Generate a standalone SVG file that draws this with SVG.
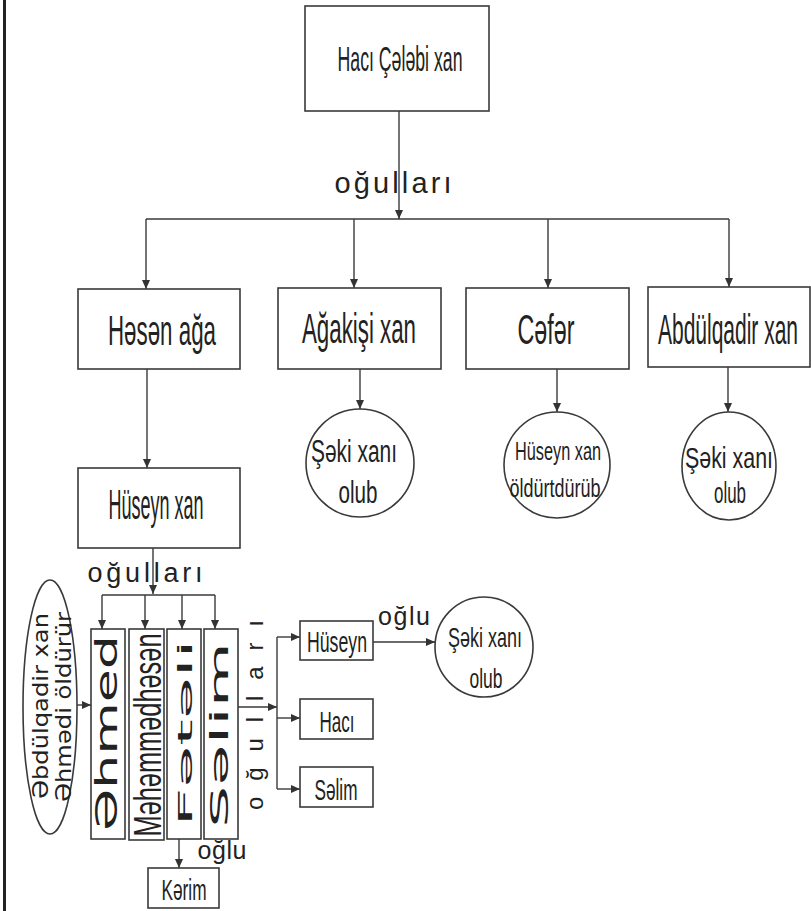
<svg xmlns="http://www.w3.org/2000/svg" width="811" height="911" viewBox="0 0 811 911">
<style>
.b{fill:#fff;stroke:#3a3a3a;stroke-width:1.6}
.c{fill:none;stroke:#3a3a3a;stroke-width:1.4}
.t{font-family:"Liberation Sans",Arial,sans-serif;fill:#222;text-anchor:middle}
.v{font-family:"DejaVu Sans",Verdana,sans-serif;fill:#222;text-anchor:middle}
</style>
<defs>
<marker id="a" markerUnits="userSpaceOnUse" markerWidth="9" markerHeight="8" refX="9" refY="4" orient="auto">
<path d="M0,0 L9,4 L0,8 z" fill="#333"/>
</marker>
</defs>
<rect width="811" height="911" fill="#fff"/>
<line x1="4.5" y1="0" x2="4.5" y2="911" stroke="#222" stroke-width="3"/>

<g id="connectors" class="c">
<line x1="399" y1="111" x2="399" y2="219" marker-end="url(#a)"/>
<line x1="146" y1="219" x2="729" y2="219"/>
<line x1="146" y1="219" x2="146" y2="289" marker-end="url(#a)"/>
<line x1="354" y1="219" x2="354" y2="288" marker-end="url(#a)"/>
<line x1="548" y1="219" x2="548" y2="288" marker-end="url(#a)"/>
<line x1="729" y1="219" x2="729" y2="287" marker-end="url(#a)"/>
<line x1="147" y1="369" x2="147" y2="468" marker-end="url(#a)"/>
<line x1="360" y1="369" x2="360" y2="409" marker-end="url(#a)"/>
<line x1="557" y1="369" x2="557" y2="412" marker-end="url(#a)"/>
<line x1="728" y1="367" x2="728" y2="412" marker-end="url(#a)"/>
<line x1="153" y1="548" x2="153" y2="594" marker-end="url(#a)"/>
<line x1="102" y1="595" x2="215" y2="595"/>
<line x1="102" y1="595" x2="102" y2="629" marker-end="url(#a)"/>
<line x1="145" y1="595" x2="145" y2="629" marker-end="url(#a)"/>
<line x1="182" y1="595" x2="182" y2="629" marker-end="url(#a)"/>
<line x1="215" y1="595" x2="215" y2="629" marker-end="url(#a)"/>
<line x1="77" y1="705" x2="91" y2="705" marker-end="url(#a)"/>
<line x1="179" y1="839" x2="179" y2="868" marker-end="url(#a)"/>
<line x1="238" y1="707" x2="277" y2="707" marker-end="url(#a)"/>
<line x1="277" y1="637" x2="277" y2="789"/>
<line x1="277" y1="637" x2="300" y2="637" marker-end="url(#a)"/>
<line x1="277" y1="718" x2="300" y2="718" marker-end="url(#a)"/>
<line x1="277" y1="789" x2="300" y2="789" marker-end="url(#a)"/>
<line x1="373" y1="642" x2="435" y2="642" marker-end="url(#a)"/>
</g>

<g id="labels" class="t">
<text x="393" y="193" font-size="29" textLength="117" lengthAdjust="spacing">oğulları</text>
<text x="145" y="582" font-size="27" textLength="115" lengthAdjust="spacing">oğulları</text>
<text x="404" y="625" font-size="25" textLength="52" lengthAdjust="spacing">oğlu</text>
<text x="222" y="859" font-size="25" textLength="49" lengthAdjust="spacing">oğlu</text>
<text transform="translate(263,715) rotate(-90)" font-size="24" textLength="190" lengthAdjust="spacing">oğulları</text>
</g>

<g id="haci-celebi-xan">
<rect class="b" x="305" y="6" width="184" height="105"/>
<text class="t" x="400" y="71" font-size="35" textLength="125" lengthAdjust="spacingAndGlyphs">Hacı Çələbi xan</text>
</g>
<g id="hesen-aga">
<rect class="b" x="78" y="289" width="162" height="80"/>
<text class="t" x="162" y="345" font-size="42" textLength="108" lengthAdjust="spacingAndGlyphs">Həsən ağa</text>
</g>
<g id="agakisi-xan">
<rect class="b" x="278" y="288" width="163" height="81"/>
<text class="t" x="359" y="343" font-size="42" textLength="114" lengthAdjust="spacingAndGlyphs">Ağakişi xan</text>
</g>
<g id="cefer">
<rect class="b" x="466" y="288" width="163" height="81"/>
<text class="t" x="546" y="344" font-size="42" textLength="57" lengthAdjust="spacingAndGlyphs">Cəfər</text>
</g>
<g id="abdulqadir-xan">
<rect class="b" x="648" y="287" width="162" height="80"/>
<text class="t" transform="translate(728,344) scale(0.5,1)" font-size="42">Abdülqadir xan</text>
</g>
<g id="seki-xani-1">
<ellipse class="b" cx="360" cy="463" rx="54" ry="54"/>
<text class="t" x="354" y="462" font-size="31" textLength="86" lengthAdjust="spacingAndGlyphs">Şəki xanı</text>
<text class="t" x="358" y="503" font-size="31" textLength="39" lengthAdjust="spacingAndGlyphs">olub</text>
</g>
<g id="huseyn-xan-oldurtdurub">
<ellipse class="b" cx="557" cy="465" rx="53" ry="53"/>
<text class="t" x="558" y="460" font-size="25" textLength="86" lengthAdjust="spacingAndGlyphs">Hüseyn xan</text>
<text class="t" x="555" y="497" font-size="25" textLength="91" lengthAdjust="spacingAndGlyphs">öldürtdürüb</text>
</g>
<g id="seki-xani-2">
<ellipse class="b" cx="729" cy="466" rx="47" ry="54"/>
<text class="t" x="729" y="468" font-size="30" textLength="88" lengthAdjust="spacingAndGlyphs">Şəki xanı</text>
<text class="t" x="730" y="503" font-size="30" textLength="32" lengthAdjust="spacingAndGlyphs">olub</text>
</g>
<g id="huseyn-xan">
<rect class="b" x="78" y="468" width="162" height="80"/>
<text class="t" x="156" y="519" font-size="42" textLength="95" lengthAdjust="spacingAndGlyphs">Hüseyn xan</text>
</g>
<g id="abdulqadir-oldurur">
<ellipse class="b" cx="50" cy="707" rx="27" ry="127"/>
<text class="v" transform="translate(48,706) rotate(-90)" font-size="21" textLength="186" lengthAdjust="spacingAndGlyphs">Əbdülqadir xan</text>
<text class="v" transform="translate(71,707) rotate(-90)" font-size="21" textLength="190" lengthAdjust="spacingAndGlyphs">Əhmədi öldürür</text>
</g>
<g id="ehmed">
<rect class="b" x="91" y="629" width="34" height="210"/>
<text class="v" transform="translate(117,733) rotate(-90)" font-size="30" textLength="196" lengthAdjust="spacingAndGlyphs">Əhmed</text>
</g>
<g id="mehemmedhesen">
<rect class="b" x="129" y="629" width="35" height="211"/>
<text class="t" transform="translate(161,735) rotate(-90)" font-size="38" textLength="203" lengthAdjust="spacingAndGlyphs">Məhəmmədhəsən</text>
</g>
<g id="feteli">
<rect class="b" x="167" y="629" width="34" height="210"/>
<text class="v" transform="translate(192,733) rotate(-90)" font-size="19" textLength="187" lengthAdjust="spacingAndGlyphs">Fətəli</text>
</g>
<g id="selim-1">
<rect class="b" x="204" y="629" width="34" height="210"/>
<text class="v" transform="translate(228,735) rotate(-90)" font-size="24" textLength="186" lengthAdjust="spacingAndGlyphs">Səlim</text>
</g>
<g id="kerim">
<rect class="b" x="148" y="868" width="71" height="40"/>
<text class="t" x="184" y="900" font-size="30" textLength="45" lengthAdjust="spacingAndGlyphs">Kərim</text>
</g>
<g id="huseyn">
<rect class="b" x="300" y="621" width="73" height="39"/>
<text class="t" x="337" y="652" font-size="29" textLength="60" lengthAdjust="spacingAndGlyphs">Hüseyn</text>
</g>
<g id="haci">
<rect class="b" x="300" y="699" width="73" height="40"/>
<text class="t" x="337" y="732" font-size="29" textLength="35" lengthAdjust="spacingAndGlyphs">Hacı</text>
</g>
<g id="selim-2">
<rect class="b" x="300" y="767" width="73" height="40"/>
<text class="t" x="336" y="800" font-size="29" textLength="43" lengthAdjust="spacingAndGlyphs">Səlim</text>
</g>
<g id="seki-xani-3">
<ellipse class="b" cx="484" cy="647" rx="49" ry="50"/>
<text class="t" x="485" y="647" font-size="28" textLength="74" lengthAdjust="spacingAndGlyphs">Şəki xanı</text>
<text class="t" x="486" y="688" font-size="28" textLength="33" lengthAdjust="spacingAndGlyphs">olub</text>
</g>
</svg>
